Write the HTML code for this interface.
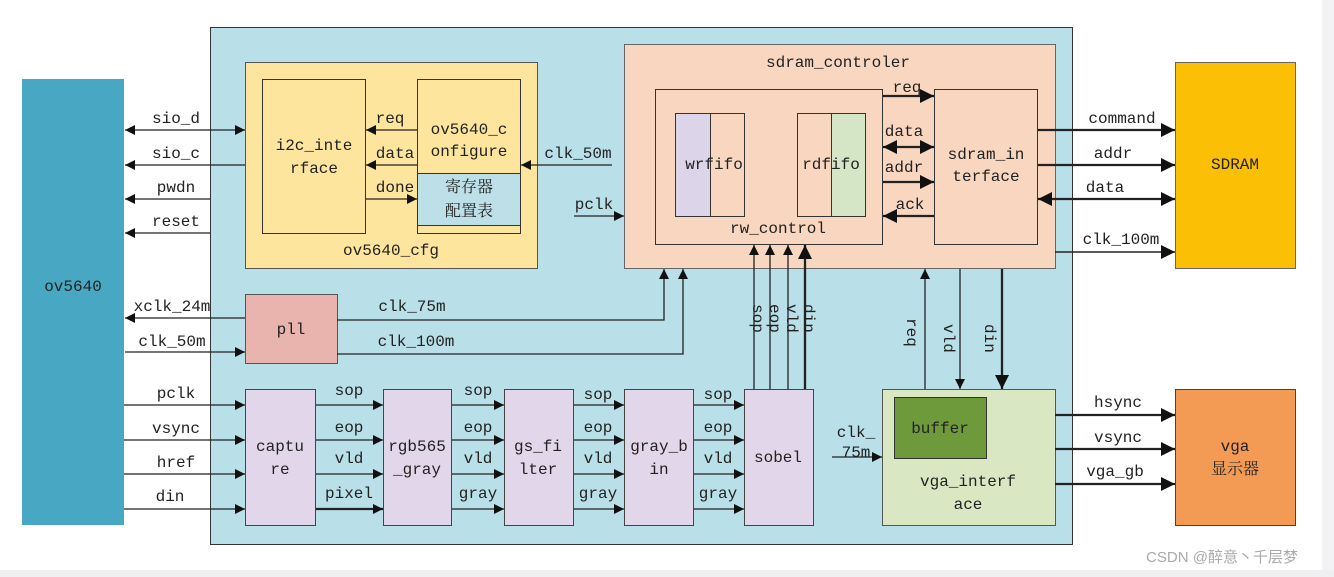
<!DOCTYPE html>
<html><head><meta charset="utf-8"><style>
html,body{margin:0;padding:0;background:#fff;}
svg{display:block;}
text{font-family:"Liberation Mono","Noto Serif CJK SC",monospace;font-size:16px;fill:#222;}
.c{text-anchor:middle;}
</style></head><body>
<svg width="1334" height="577" viewBox="0 0 1334 577" xmlns="http://www.w3.org/2000/svg">
<defs>
<marker id="a" viewBox="0 0 10 10" refX="10" refY="5" markerWidth="10" markerHeight="10" markerUnits="userSpaceOnUse" orient="auto-start-reverse"><path d="M0,0L10,5L0,10z" fill="#111"/></marker>
<marker id="b" viewBox="0 0 10 10" refX="10" refY="5" markerWidth="14" markerHeight="14" markerUnits="userSpaceOnUse" orient="auto-start-reverse"><path d="M0,0L10,5L0,10z" fill="#111"/></marker>
</defs>
<rect x="0" y="0" width="1334" height="577" fill="#fff"/>
<rect x="1322" y="0" width="12" height="577" fill="#f3f3f5"/>
<rect x="0" y="570" width="1334" height="7" fill="#f0f0f2"/>
<rect x="210.5" y="27.5" width="862" height="517" fill="#b9dfe8" stroke="#333"/>
<rect x="22" y="79" width="102" height="446" fill="#48a8c3"/>
<text x="73" y="291" class="c">ov5640</text>
<rect x="245.5" y="62.5" width="292" height="206" fill="#fde59e" stroke="#555"/>
<rect x="262.5" y="79.5" width="103" height="154" fill="#fde59e" stroke="#333"/>
<text x="314" y="150" class="c">i2c_inte</text><text x="314" y="173" class="c">rface</text>
<rect x="417.5" y="79.5" width="103" height="154" fill="#fde59e" stroke="#333"/>
<rect x="417.5" y="173.5" width="103" height="52" fill="#bddfe8" stroke="#333"/>
<text x="469" y="134" class="c">ov5640_c</text><text x="469" y="156" class="c">onfigure</text>
<text x="469" y="192" class="c">寄存器</text><text x="469" y="216" class="c">配置表</text>
<text x="391" y="255" class="c">ov5640_cfg</text>
<rect x="624.5" y="44.5" width="431" height="224" fill="#f9d6c0" stroke="#666"/>
<text x="838" y="67" class="c">sdram_controler</text>
<rect x="655.5" y="89.5" width="227" height="155" fill="#f9d6c0" stroke="#333"/>
<rect x="675.5" y="113.5" width="69" height="103" fill="#f9d6c0" stroke="#333"/>
<rect x="675.5" y="113.5" width="35" height="103" fill="#dcd4e8" stroke="#333"/>
<text x="714" y="169" class="c">wrfifo</text>
<rect x="797.5" y="113.5" width="68" height="103" fill="#f9d6c0" stroke="#333"/>
<rect x="831.5" y="113.5" width="34" height="103" fill="#d4e6c5" stroke="#333"/>
<text x="831" y="169" class="c">rdfifo</text>
<text x="778" y="233" class="c">rw_control</text>
<rect x="934.5" y="89.5" width="103" height="155" fill="#f9d6c0" stroke="#333"/>
<text x="986" y="159" class="c">sdram_in</text><text x="986" y="181" class="c">terface</text>
<rect x="1175.5" y="62.5" width="120" height="206" fill="#fbbf06" stroke="#666"/>
<text x="1235" y="169" class="c">SDRAM</text>
<rect x="1175.5" y="389.5" width="120" height="136" fill="#f39b55" stroke="#444"/>
<text x="1235" y="451" class="c">vga</text><text x="1235" y="474" class="c">显示器</text>
<rect x="882.5" y="389.5" width="173" height="136" fill="#d9e8c3" stroke="#555"/>
<rect x="894.5" y="397.5" width="92" height="61" fill="#6f9a3c" stroke="#333"/>
<text x="940" y="433" class="c">buffer</text>
<text x="968" y="486" class="c">vga_interf</text><text x="968" y="509" class="c">ace</text>
<rect x="245.5" y="294.5" width="92" height="69" fill="#e8b4ad" stroke="#555"/>
<text x="291" y="334" class="c">pll</text>
<g fill="#e2d7ea" stroke="#444">
<rect x="245.5" y="389.5" width="70" height="136"/>
<rect x="383.5" y="389.5" width="68" height="136"/>
<rect x="504.5" y="389.5" width="69" height="136"/>
<rect x="624.5" y="389.5" width="69" height="136"/>
<rect x="744.5" y="389.5" width="69" height="136"/>
</g>
<text x="280" y="451" class="c">captu</text><text x="280" y="474" class="c">re</text>
<text x="417" y="451" class="c">rgb565</text><text x="417" y="474" class="c">_gray</text>
<text x="538" y="451" class="c">gs_fi</text><text x="538" y="474" class="c">lter</text>
<text x="659" y="451" class="c">gray_b</text><text x="659" y="474" class="c">in</text>
<text x="778" y="462" class="c">sobel</text>
<g stroke="#222" stroke-width="1.3" fill="none" marker-end="url(#a)">
<line x1="245" y1="130" x2="125" y2="130" marker-start="url(#a)"/>
<line x1="245" y1="165" x2="125" y2="165"/>
<line x1="210" y1="199" x2="125" y2="199"/>
<line x1="210" y1="233" x2="125" y2="233"/>
<line x1="417" y1="130" x2="366" y2="130"/>
<line x1="417" y1="165" x2="366" y2="165"/>
<line x1="366" y1="199" x2="417" y2="199"/>
<line x1="612" y1="165" x2="521" y2="165"/>
<line x1="574" y1="216" x2="624" y2="216"/>
<line x1="245" y1="318" x2="125" y2="318"/>
<line x1="125" y1="352" x2="245" y2="352"/>
<polyline points="337,320 664,320 664,269"/>
<polyline points="337,354 683,354 683,269"/>
<line x1="124" y1="405" x2="245" y2="405"/>
<line x1="124" y1="440" x2="245" y2="440"/>
<line x1="124" y1="474" x2="245" y2="474"/>
<line x1="124" y1="509" x2="245" y2="509"/>
<line x1="316" y1="405" x2="383" y2="405"/>
<line x1="316" y1="440" x2="383" y2="440"/>
<line x1="316" y1="474" x2="383" y2="474"/>
<line x1="316" y1="509" x2="383" y2="509" stroke-width="2.3"/>
<line x1="452" y1="405" x2="504" y2="405"/>
<line x1="452" y1="440" x2="504" y2="440"/>
<line x1="452" y1="474" x2="504" y2="474"/>
<line x1="452" y1="509" x2="504" y2="509"/>
<line x1="574" y1="405" x2="624" y2="405"/>
<line x1="574" y1="440" x2="624" y2="440"/>
<line x1="574" y1="474" x2="624" y2="474"/>
<line x1="574" y1="509" x2="624" y2="509"/>
<line x1="694" y1="405" x2="744" y2="405"/>
<line x1="694" y1="440" x2="744" y2="440"/>
<line x1="694" y1="474" x2="744" y2="474"/>
<line x1="694" y1="509" x2="744" y2="509"/>
<line x1="754" y1="389" x2="754" y2="245"/>
<line x1="770" y1="389" x2="770" y2="245"/>
<line x1="788" y1="389" x2="788" y2="245"/>
<line x1="805" y1="389" x2="805" y2="245" stroke-width="2.3" marker-end="url(#b)"/>
<line x1="925" y1="389" x2="925" y2="269"/>
<line x1="960" y1="269" x2="960" y2="389"/>
<line x1="1002" y1="269" x2="1002" y2="389" stroke-width="2.3" marker-end="url(#b)"/>
<line x1="832" y1="457" x2="882" y2="457"/>
<g marker-end="url(#b)" stroke-width="2.3">
<line x1="883" y1="96" x2="934" y2="96"/>
<line x1="883" y1="147" x2="934" y2="147" marker-start="url(#b)"/>
<line x1="883" y1="182" x2="934" y2="182"/>
<line x1="934" y1="216" x2="883" y2="216"/>
<line x1="1038" y1="130" x2="1175" y2="130"/>
<line x1="1038" y1="165" x2="1175" y2="165"/>
<line x1="1038" y1="199" x2="1175" y2="199" marker-start="url(#b)"/>
<line x1="1055" y1="415" x2="1175" y2="415"/>
<line x1="1055" y1="449" x2="1175" y2="449"/>
<line x1="1055" y1="484" x2="1175" y2="484"/>
</g>
<line x1="1055" y1="252" x2="1175" y2="252" stroke-width="1.6" marker-end="url(#b)"/>
</g>
<text x="176" y="123" class="c">sio_d</text>
<text x="176" y="158" class="c">sio_c</text>
<text x="176" y="192" class="c">pwdn</text>
<text x="176" y="226" class="c">reset</text>
<text x="390" y="123" class="c">req</text>
<text x="395" y="158" class="c">data</text>
<text x="395" y="192" class="c">done</text>
<text x="578" y="158" class="c">clk_50m</text>
<text x="594" y="209" class="c">pclk</text>
<text x="172" y="311" class="c">xclk_24m</text>
<text x="172" y="346" class="c">clk_50m</text>
<text x="412" y="311" class="c">clk_75m</text>
<text x="416" y="346" class="c">clk_100m</text>
<text x="176" y="398" class="c">pclk</text>
<text x="176" y="433" class="c">vsync</text>
<text x="176" y="467" class="c">href</text>
<text x="170" y="501" class="c">din</text>
<text x="349" y="395" class="c">sop</text><text x="349" y="432" class="c">eop</text><text x="349" y="463" class="c">vld</text><text x="349" y="498" class="c">pixel</text>
<text x="478" y="395" class="c">sop</text><text x="478" y="432" class="c">eop</text><text x="478" y="463" class="c">vld</text><text x="478" y="498" class="c">gray</text>
<text x="598" y="399" class="c">sop</text><text x="598" y="432" class="c">eop</text><text x="598" y="463" class="c">vld</text><text x="598" y="498" class="c">gray</text>
<text x="718" y="399" class="c">sop</text><text x="718" y="432" class="c">eop</text><text x="718" y="463" class="c">vld</text><text x="718" y="498" class="c">gray</text>
<text transform="translate(753,304) rotate(90)">sop</text>
<text transform="translate(770,304) rotate(90)">eop</text>
<text transform="translate(787,304) rotate(90)">vld</text>
<text transform="translate(804,304) rotate(90)">din</text>
<text transform="translate(907,318) rotate(90)">req</text>
<text transform="translate(944,324) rotate(90)">vld</text>
<text transform="translate(985,324) rotate(90)">din</text>
<text x="907" y="92" class="c">req</text>
<text x="904" y="136" class="c">data</text>
<text x="904" y="172" class="c">addr</text>
<text x="910" y="209" class="c">ack</text>
<text x="1122" y="123" class="c">command</text>
<text x="1113" y="158" class="c">addr</text>
<text x="1105" y="192" class="c">data</text>
<text x="1121" y="244" class="c">clk_100m</text>
<text x="1118" y="407" class="c">hsync</text>
<text x="1118" y="442" class="c">vsync</text>
<text x="1115" y="476" class="c">vga_gb</text>
<text x="856" y="437" class="c">clk_</text>
<text x="856" y="457" class="c">75m</text>
<text x="1222" y="562" style="font-family:'Liberation Sans','Noto Sans CJK SC',sans-serif;font-size:15px;fill:#aaa" class="c">CSDN @醉意丶千层梦</text>
</svg>
</body></html>
